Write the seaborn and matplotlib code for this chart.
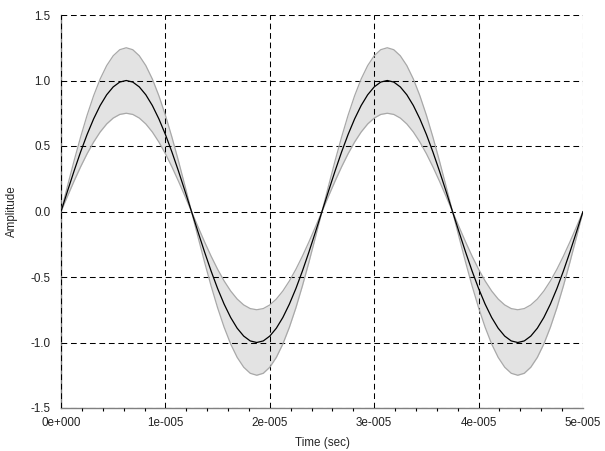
import numpy as np
import matplotlib
matplotlib.use("Agg")
import matplotlib.pyplot as plt
from matplotlib.ticker import FuncFormatter, MultipleLocator
import seaborn as sns

# Time samples (microseconds)
time_us = [
    0.0, 0.625, 1.25, 1.875, 2.5, 3.125, 3.75, 4.375, 5.0, 5.625,
    6.25, 6.875, 7.5, 8.125, 8.75, 9.375, 10.0, 10.625, 11.25, 11.875,
    12.5, 13.125, 13.75, 14.375, 15.0, 15.625, 16.25, 16.875, 17.5, 18.125,
    18.75, 19.375, 20.0, 20.625, 21.25, 21.875, 22.5, 23.125, 23.75, 24.375,
    25.0, 25.625, 26.25, 26.875, 27.5, 28.125, 28.75, 29.375, 30.0, 30.625,
    31.25, 31.875, 32.5, 33.125, 33.75, 34.375, 35.0, 35.625, 36.25, 36.875,
    37.5, 38.125, 38.75, 39.375, 40.0, 40.625, 41.25, 41.875, 42.5, 43.125,
    43.75, 44.375, 45.0, 45.625, 46.25, 46.875, 47.5, 48.125, 48.75, 49.375,
    50.0,
]

# Signal amplitude
amplitude = [
    0.000, 0.156, 0.309, 0.454, 0.588, 0.707, 0.809, 0.891, 0.951, 0.988,
    1.000, 0.988, 0.951, 0.891, 0.809, 0.707, 0.588, 0.454, 0.309, 0.156,
    0.000, -0.156, -0.309, -0.454, -0.588, -0.707, -0.809, -0.891, -0.951, -0.988,
    -1.000, -0.988, -0.951, -0.891, -0.809, -0.707, -0.588, -0.454, -0.309, -0.156,
    0.000, 0.156, 0.309, 0.454, 0.588, 0.707, 0.809, 0.891, 0.951, 0.988,
    1.000, 0.988, 0.951, 0.891, 0.809, 0.707, 0.588, 0.454, 0.309, 0.156,
    0.000, -0.156, -0.309, -0.454, -0.588, -0.707, -0.809, -0.891, -0.951, -0.988,
    -1.000, -0.988, -0.951, -0.891, -0.809, -0.707, -0.588, -0.454, -0.309, -0.156,
    0.000,
]

# Envelope: +/- 25% of the amplitude
band_low_factor = 0.75
band_high_factor = 1.25

y_ticks = [-1.5, -1.0, -0.5, 0.0, 0.5, 1.0, 1.5]
x_ticks = [0, 1e-5, 2e-5, 3e-5, 4e-5, 5e-5]

t = np.array(time_us) * 1e-6
amp = np.array(amplitude)
band_a = amp * band_low_factor
band_b = amp * band_high_factor

sns.set_style("white")
plt.rcParams["font.family"] = ["Liberation Sans", "DejaVu Sans"]
plt.rcParams["font.size"] = 8.4
plt.rcParams["text.color"] = "#222222"
plt.rcParams["xtick.labelcolor"] = "#222222"
plt.rcParams["ytick.labelcolor"] = "#222222"

fig = plt.figure(figsize=(6.05, 4.51), dpi=100)
ax = fig.add_axes([61 / 605, 43 / 451, 522 / 605, 393 / 451])

# shaded envelope
ax.fill_between(t, band_a, band_b, color="#e3e3e3", linewidth=0, zorder=2)
ax.plot(t, band_a, color="#a8a8a8", linewidth=0.9, zorder=3)
ax.plot(t, band_b, color="#a8a8a8", linewidth=0.9, zorder=3)

sns.lineplot(x=t, y=amp, color="black", linewidth=0.9, ax=ax, zorder=4)

ax.set_xlim(0, 5e-5)
ax.set_ylim(-1.5, 1.5)
ax.set_xticks(x_ticks)
ax.set_yticks(y_ticks)
ax.xaxis.set_minor_locator(MultipleLocator(2e-6))


def sci_fmt(v, pos):
    if v == 0:
        return "0e+000"
    e = int(np.floor(np.log10(abs(v)) + 1e-9))
    m = int(round(v / 10 ** e))
    return f"{m}e{e:+04d}"


ax.xaxis.set_major_formatter(FuncFormatter(sci_fmt))
ax.yaxis.set_major_formatter(FuncFormatter(lambda v, p: f"{v:.1f}"))

ax.grid(True, which="major", color="black", linestyle=(0, (5.5, 3.6)), linewidth=0.75)
ax.set_axisbelow(False)

for side in ["top", "right"]:
    ax.spines[side].set_visible(False)
for side in ["left", "bottom"]:
    ax.spines[side].set_color("#808080")
    ax.spines[side].set_linewidth(1.0)
    ax.spines[side].set_zorder(1)

ax.tick_params(axis="x", which="major", direction="inout", length=7, width=0.8,
               color="black", pad=3)
ax.tick_params(axis="x", which="minor", direction="out", length=2.2, width=0.8,
               color="black", bottom=True)
ax.tick_params(axis="y", which="major", direction="out", length=5.5, width=0.8,
               color="black", pad=2)

ax.set_xlabel("Time (sec)", labelpad=6)
ax.set_ylabel("Amplitude", labelpad=9)

fig.savefig("out.png", dpi=100)
